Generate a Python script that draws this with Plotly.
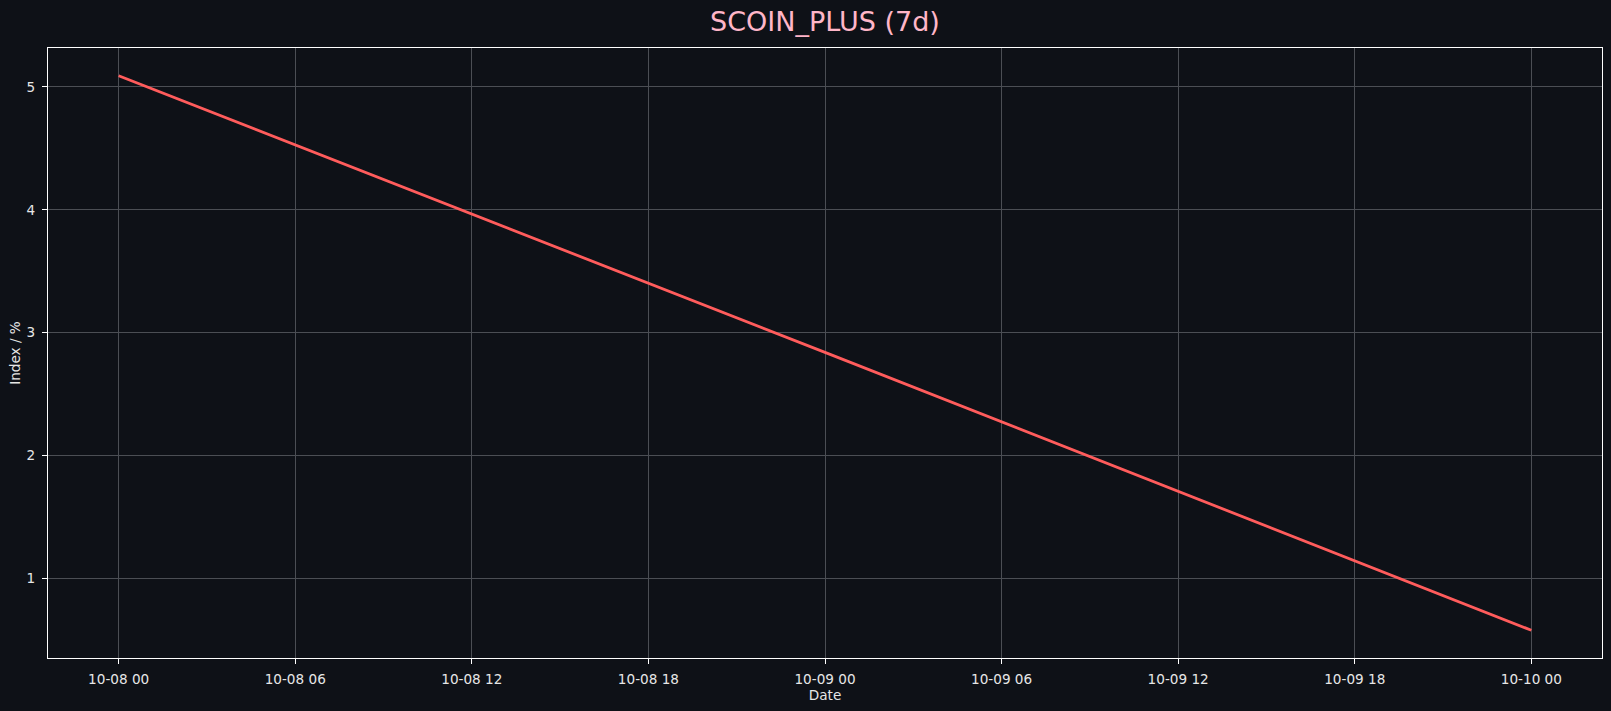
import plotly.graph_objects as go
import pandas as pd

dates = ["2025-10-08 00:00", "2025-10-09 00:00", "2025-10-10 00:00"]
index_pct = [5.09, 2.84, 0.58]
title_text = "SCOIN_PLUS (7d)"
x_label = "Date"
y_label = "Index / %"

BG = "#0e1117"
FG = "#e6e6e6"
GRID = "#4b4e54"
FONT = "DejaVu Sans"

x = pd.to_datetime(dates)
span = x.max() - x.min()
xr = [x.min() - span * 0.05, x.max() + span * 0.05]
ymin, ymax = min(index_pct), max(index_pct)
ys = ymax - ymin
yr = [ymin - ys * 0.05, ymax + ys * 0.05]

fig = go.Figure()
fig.add_trace(go.Scatter(x=x, y=index_pct, mode="lines",
                         line=dict(color="#ff5c5c", width=2.8),
                         showlegend=False, hoverinfo="x+y"))

axis_common = dict(
    showline=True, linecolor="#ffffff", linewidth=1.2, mirror=True,
    showgrid=True, gridcolor=GRID, gridwidth=1,
    ticks="outside", ticklen=5, tickwidth=1, tickcolor="#ffffff",
    tickfont=dict(family=FONT, size=13.6, color=FG),
    zeroline=False,
)

fig.update_layout(
    width=1611, height=711,
    paper_bgcolor=BG, plot_bgcolor=BG,
    margin=dict(l=48, r=9, t=48, b=53),
    font=dict(family=FONT, color=FG, size=13.6),
    title=dict(text=title_text, x=(48 + 1602) / 2 / 1611, xanchor="center",
               y=1 - 22 / 711, yanchor="middle",
               font=dict(family=FONT, size=27, color="#ffb6c8")),
    xaxis=dict(**axis_common, type="date", range=xr,
               tick0="2025-10-08", dtick=6 * 3600 * 1000,
               tickformat="%m-%d %H", ticklabelstandoff=4,
               title=dict(text=x_label, standoff=4,
                          font=dict(family=FONT, size=13.6, color=FG))),
    yaxis=dict(**axis_common, range=yr, dtick=1, tick0=0,
               ticklabelstandoff=4,
               title=dict(text=y_label, standoff=2,
                          font=dict(family=FONT, size=13.6, color=FG))),
)

fig.write_html(
    "out.html",
    config={"displayModeBar": False},
    post_script="document.body.style.margin='0';document.body.style.padding='0';"
                "document.body.style.background='#0e1117';"
                "document.documentElement.style.background='#0e1117';",
)
